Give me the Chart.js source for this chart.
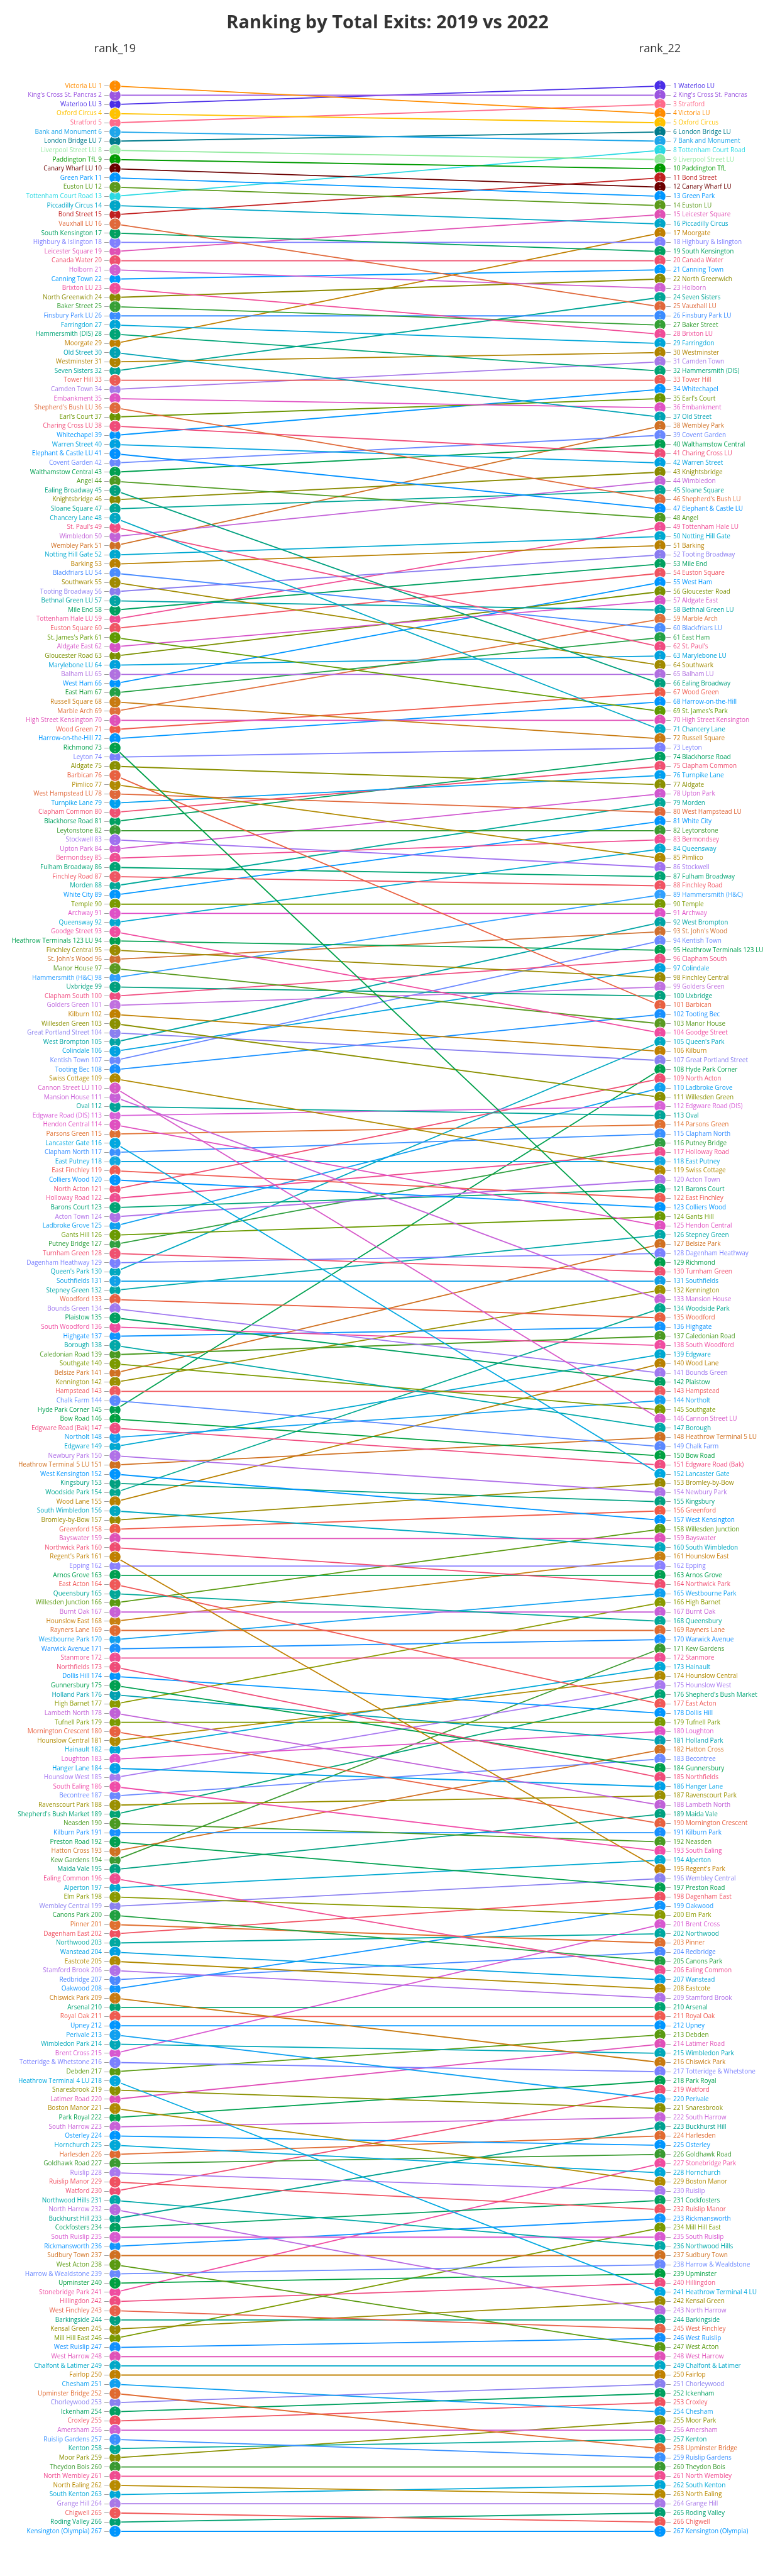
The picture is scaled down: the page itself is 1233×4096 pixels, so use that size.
<!DOCTYPE html>
<html>
<head>
<meta charset="utf-8">
<script src="https://cdn.jsdelivr.net/npm/chart.js@4.4.1/dist/chart.umd.min.js"></script>
<style>
  html, body { margin: 0; padding: 0; background: #fff; }
  #wrap { width: 1233px; height: 4096px; }
</style>
</head>
<body>
<div id="wrap"><canvas id="slopeChart"></canvas></div>
<script>
// stations in 2019 order (rank_19 = position in this list)
const stations19 = [
"Victoria LU","King's Cross St. Pancras","Waterloo LU","Oxford Circus","Stratford","Bank and Monument","London Bridge LU","Liverpool Street LU","Paddington TfL","Canary Wharf LU",
"Green Park","Euston LU","Tottenham Court Road","Piccadilly Circus","Bond Street","Vauxhall LU","South Kensington","Highbury & Islington","Leicester Square","Canada Water",
"Holborn","Canning Town","Brixton LU","North Greenwich","Baker Street","Finsbury Park LU","Farringdon","Hammersmith (DIS)","Moorgate","Old Street",
"Westminster","Seven Sisters","Tower Hill","Camden Town","Embankment","Shepherd's Bush LU","Earl's Court","Charing Cross LU","Whitechapel","Warren Street",
"Elephant & Castle LU","Covent Garden","Walthamstow Central","Angel","Ealing Broadway","Knightsbridge","Sloane Square","Chancery Lane","St. Paul's","Wimbledon",
"Wembley Park","Notting Hill Gate","Barking","Blackfriars LU","Southwark","Tooting Broadway","Bethnal Green LU","Mile End","Tottenham Hale LU","Euston Square",
"St. James's Park","Aldgate East","Gloucester Road","Marylebone LU","Balham LU","West Ham","East Ham","Russell Square","Marble Arch","High Street Kensington",
"Wood Green","Harrow-on-the-Hill","Richmond","Leyton","Aldgate","Barbican","Pimlico","West Hampstead LU","Turnpike Lane","Clapham Common",
"Blackhorse Road","Leytonstone","Stockwell","Upton Park","Bermondsey","Fulham Broadway","Finchley Road","Morden","White City","Temple",
"Archway","Queensway","Goodge Street","Heathrow Terminals 123 LU","Finchley Central","St. John's Wood","Manor House","Hammersmith (H&C)","Uxbridge","Clapham South",
"Golders Green","Kilburn","Willesden Green","Great Portland Street","West Brompton","Colindale","Kentish Town","Tooting Bec","Swiss Cottage","Cannon Street LU",
"Mansion House","Oval","Edgware Road (DIS)","Hendon Central","Parsons Green","Lancaster Gate","Clapham North","East Putney","East Finchley","Colliers Wood",
"North Acton","Holloway Road","Barons Court","Acton Town","Ladbroke Grove","Gants Hill","Putney Bridge","Turnham Green","Dagenham Heathway","Queen's Park",
"Southfields","Stepney Green","Woodford","Bounds Green","Plaistow","South Woodford","Highgate","Borough","Caledonian Road","Southgate",
"Belsize Park","Kennington","Hampstead","Chalk Farm","Hyde Park Corner","Bow Road","Edgware Road (Bak)","Northolt","Edgware","Newbury Park",
"Heathrow Terminal 5 LU","West Kensington","Kingsbury","Woodside Park","Wood Lane","South Wimbledon","Bromley-by-Bow","Greenford","Bayswater","Northwick Park",
"Regent's Park","Epping","Arnos Grove","East Acton","Queensbury","Willesden Junction","Burnt Oak","Hounslow East","Rayners Lane","Westbourne Park",
"Warwick Avenue","Stanmore","Northfields","Dollis Hill","Gunnersbury","Holland Park","High Barnet","Lambeth North","Tufnell Park","Mornington Crescent",
"Hounslow Central","Hainault","Loughton","Hanger Lane","Hounslow West","South Ealing","Becontree","Ravenscourt Park","Shepherd's Bush Market","Neasden",
"Kilburn Park","Preston Road","Hatton Cross","Kew Gardens","Maida Vale","Ealing Common","Alperton","Elm Park","Wembley Central","Canons Park",
"Pinner","Dagenham East","Northwood","Wanstead","Eastcote","Stamford Brook","Redbridge","Oakwood","Chiswick Park","Arsenal",
"Royal Oak","Upney","Perivale","Wimbledon Park","Brent Cross","Totteridge & Whetstone","Debden","Heathrow Terminal 4 LU","Snaresbrook","Latimer Road",
"Boston Manor","Park Royal","South Harrow","Osterley","Hornchurch","Harlesden","Goldhawk Road","Ruislip","Ruislip Manor","Watford",
"Northwood Hills","North Harrow","Buckhurst Hill","Cockfosters","South Ruislip","Rickmansworth","Sudbury Town","West Acton","Harrow & Wealdstone","Upminster",
"Stonebridge Park","Hillingdon","West Finchley","Barkingside","Kensal Green","Mill Hill East","West Ruislip","West Harrow","Chalfont & Latimer","Fairlop",
"Chesham","Upminster Bridge","Chorleywood","Ickenham","Croxley","Amersham","Ruislip Gardens","Kenton","Moor Park","Theydon Bois",
"North Wembley","North Ealing","South Kenton","Grange Hill","Chigwell","Roding Valley","Kensington (Olympia)"
];

// one colour per station, same order as stations19
const stationColors = [
"#ff8c00","#9b55e0","#4a2ee8","#ffc200","#ff6b8b","#1ea6ea","#007b8c","#8de99a","#009a00","#6b0000",
"#0096ff","#5b9a1a","#29d9e3","#00a6c8","#c01f1f","#e0683a","#00a060","#8080ff","#e050b4","#f04f6e",
"#d05fd0","#0099ff","#f04c98","#8a8a00","#35a035","#3a8cff","#00a6d8","#00a476","#c07f00","#00a2b4",
"#b08300","#00a596","#ec5a54","#a678e8","#e052c4","#e06a3a","#6a9500","#f04c78","#0096ff","#00a2e0",
"#0090ff","#6a88ff","#00a050","#4e9a20","#00a07e","#8a8a00","#00a596","#00a8c4","#f04c80","#c262d8",
"#d07024","#00a8d0","#b88000","#4a8cff","#a08a00","#8a7cf0","#00a4a4","#00a060","#f04c94","#f05462",
"#5f9a00","#d552c8","#7a9000","#00a2dc","#b070e0","#0096ff","#22a044","#c87a10","#e0703a","#e050b8",
"#ef5a4a","#0096ff","#00a04a","#7a80ff","#8a9000","#e86040","#b08a00","#e0683a","#00a0f0","#f05072",
"#00a060","#3a9a30","#a070f0","#d058d0","#f04c92","#00a474","#f05462","#00a898","#0096ff","#7a9a00",
"#e050c8","#00a8d0","#f04ca0","#00a050","#9a8a00","#d07030","#5a9a20","#30a0ff","#00a07e","#f04c80",
"#c070e0","#c08000","#8a9000","#8a80f0","#00a4a4","#00a2e0","#6a88ff","#1890ff","#b08a00","#d858c8",
"#c860d8","#00a498","#d860d8","#e050c0","#e07030","#00a8e0","#3a90ff","#10a8e0","#f05a52","#0096ff",
"#f04c70","#f04c90","#00a474","#b070e8","#10a0f0","#6a9a00","#30a040","#f05070","#7a80ff","#00a8c0",
"#10a0e8","#00a8a8","#e86040","#a078f0","#00a060","#f04ca0","#1095ff","#00a8a8","#4a9a20","#7a9a00",
"#d07020","#9a9000","#f05a60","#5a88ff","#00a050","#00a040","#f04c80","#10a0f0","#00a8d0","#b070e8",
"#d07020","#0096ff","#00a080","#00a890","#b88000","#00a8c0","#9a8a00","#f05a48","#e050b8","#f04c70",
"#c08000","#8a80ff","#00a050","#f05858","#00a898","#5a9a10","#c860d8","#c88010","#e06a30","#10a0f0",
"#1890ff","#f04c90","#f04c78","#0096ff","#00a050","#00a0b0","#8a9a00","#c060d8","#7a9a00","#e86040",
"#b08a00","#00a8d8","#e050c8","#00a0e8","#a878f0","#f04ca8","#6a88ff","#9a9000","#00a474","#4a9a20",
"#1890ff","#00a050","#d07020","#3a9a30","#00a080","#f04c90","#00a8d0","#8a9a00","#8a80f0","#20a040",
"#e07030","#f05060","#00a8a0","#00a0e0","#b08a00","#b070e8","#4a88ff","#1095ff","#c87a10","#00a474",
"#f05a50","#0096ff","#10a0f0","#00a8b8","#d858d0","#7a80ff","#5a9a10","#00a8e0","#8a9000","#e050b8",
"#b08a00","#00a050","#c860d8","#0096ff","#00a8d8","#e06a30","#3a9a30","#a878f0","#f05060","#f04c70",
"#00a8a8","#b868e0","#00a090","#00a060","#d858d0","#1095ff","#d07020","#5a9a10","#6a88ff","#00a040",
"#f04ca0","#f04c80","#e86048","#00a080","#9a8a00","#7a9a00","#1090ff","#e050b8","#00a8c8","#c08000",
"#10a0f0","#e06a30","#8a80f0","#00a060","#f05060","#d060d0","#3a90ff","#00a898","#8a9000","#3a9a30",
"#f04c90","#b88a00","#00a8d8","#a878e8","#f05858","#00a070","#0096ff"
];

// stations in 2022 order
const stations22 = [
"Waterloo LU","King's Cross St. Pancras","Stratford","Victoria LU","Oxford Circus","London Bridge LU","Bank and Monument","Tottenham Court Road","Liverpool Street LU","Paddington TfL",
"Bond Street","Canary Wharf LU","Green Park","Euston LU","Leicester Square","Piccadilly Circus","Moorgate","Highbury & Islington","South Kensington","Canada Water",
"Canning Town","North Greenwich","Holborn","Seven Sisters","Vauxhall LU","Finsbury Park LU","Baker Street","Brixton LU","Farringdon","Westminster",
"Camden Town","Hammersmith (DIS)","Tower Hill","Whitechapel","Earl's Court","Embankment","Old Street","Wembley Park","Covent Garden","Walthamstow Central",
"Charing Cross LU","Warren Street","Knightsbridge","Wimbledon","Sloane Square","Shepherd's Bush LU","Elephant & Castle LU","Angel","Tottenham Hale LU","Notting Hill Gate",
"Barking","Tooting Broadway","Mile End","Euston Square","West Ham","Gloucester Road","Aldgate East","Bethnal Green LU","Marble Arch","Blackfriars LU",
"East Ham","St. Paul's","Marylebone LU","Southwark","Balham LU","Ealing Broadway","Wood Green","Harrow-on-the-Hill","St. James's Park","High Street Kensington",
"Chancery Lane","Russell Square","Leyton","Blackhorse Road","Clapham Common","Turnpike Lane","Aldgate","Upton Park","Morden","West Hampstead LU",
"White City","Leytonstone","Bermondsey","Queensway","Pimlico","Stockwell","Fulham Broadway","Finchley Road","Hammersmith (H&C)","Temple",
"Archway","West Brompton","St. John's Wood","Kentish Town","Heathrow Terminals 123 LU","Clapham South","Colindale","Finchley Central","Golders Green","Uxbridge",
"Barbican","Tooting Bec","Manor House","Goodge Street","Queen's Park","Kilburn","Great Portland Street","Hyde Park Corner","North Acton","Ladbroke Grove",
"Willesden Green","Edgware Road (DIS)","Oval","Parsons Green","Clapham North","Putney Bridge","Holloway Road","East Putney","Swiss Cottage","Acton Town",
"Barons Court","East Finchley","Colliers Wood","Gants Hill","Hendon Central","Stepney Green","Belsize Park","Dagenham Heathway","Richmond","Turnham Green",
"Southfields","Kennington","Mansion House","Woodside Park","Woodford","Highgate","Caledonian Road","South Woodford","Edgware","Wood Lane",
"Bounds Green","Plaistow","Hampstead","Northolt","Southgate","Cannon Street LU","Borough","Heathrow Terminal 5 LU","Chalk Farm","Bow Road",
"Edgware Road (Bak)","Lancaster Gate","Bromley-by-Bow","Newbury Park","Kingsbury","Greenford","West Kensington","Willesden Junction","Bayswater","South Wimbledon",
"Hounslow East","Epping","Arnos Grove","Northwick Park","Westbourne Park","High Barnet","Burnt Oak","Queensbury","Rayners Lane","Warwick Avenue",
"Kew Gardens","Stanmore","Hainault","Hounslow Central","Hounslow West","Shepherd's Bush Market","East Acton","Dollis Hill","Tufnell Park","Loughton",
"Holland Park","Hatton Cross","Becontree","Gunnersbury","Northfields","Hanger Lane","Ravenscourt Park","Lambeth North","Maida Vale","Mornington Crescent",
"Kilburn Park","Neasden","South Ealing","Alperton","Regent's Park","Wembley Central","Preston Road","Dagenham East","Oakwood","Elm Park",
"Brent Cross","Northwood","Pinner","Redbridge","Canons Park","Ealing Common","Wanstead","Eastcote","Stamford Brook","Arsenal",
"Royal Oak","Upney","Debden","Latimer Road","Wimbledon Park","Chiswick Park","Totteridge & Whetstone","Park Royal","Watford","Perivale",
"Snaresbrook","South Harrow","Buckhurst Hill","Harlesden","Osterley","Goldhawk Road","Stonebridge Park","Hornchurch","Boston Manor","Ruislip",
"Cockfosters","Ruislip Manor","Rickmansworth","Mill Hill East","South Ruislip","Northwood Hills","Sudbury Town","Harrow & Wealdstone","Upminster","Hillingdon",
"Heathrow Terminal 4 LU","Kensal Green","North Harrow","Barkingside","West Finchley","West Ruislip","West Acton","West Harrow","Chalfont & Latimer","Fairlop",
"Chorleywood","Ickenham","Croxley","Chesham","Moor Park","Amersham","Kenton","Upminster Bridge","Ruislip Gardens","Theydon Bois",
"North Wembley","South Kenton","North Ealing","Grange Hill","Roding Valley","Chigwell","Kensington (Olympia)"
];

const axisLabels = ['rank_19', 'rank_22'];
const N = stations19.length;

const colorOf = {};
stations19.forEach((s, i) => { colorOf[s] = stationColors[i]; });

const FONT = "'Open Sans', 'DejaVu Sans', sans-serif";

let datasets = stations19.map((name, i) => {
    let r22 = stations22.indexOf(name) + 1;
    if (r22 === 0) throw new Error('missing in 2022 list: ' + name);
    return {
        label: name,
        data: [{x: axisLabels[0], y: i + 1}, {x: axisLabels[1], y: r22}],
        borderColor: stationColors[i],
        backgroundColor: stationColors[i],
        borderWidth: 1.8,
        pointRadius: 9.5,
        pointBorderColor: '#ffffff',
        pointBorderWidth: 1.3,
        order: -r22, // lower 2022 rank drawn first
        clip: false
    };
});

// dashed guide through the point columns, drawn over the points
const guideLines = {
    id: 'guideLines',
    afterDatasetsDraw(chart) {
        const c = chart.ctx, a = chart.chartArea, x = chart.scales.x;
        c.save();
        c.strokeStyle = 'rgba(215,215,215,0.95)';
        c.lineWidth = 1;
        c.setLineDash([2, 3]);
        axisLabels.forEach((l, i) => {
            let px = x.getPixelForValue(i);
            c.beginPath();
            c.moveTo(px, a.top - 8);
            c.lineTo(px, a.bottom + 8);
            c.stroke();
        });
        c.restore();
    }
};

function rankAxis(position, labelFn, colorFn) {
    return {
        type: 'linear',
        position: position,
        reverse: true,
        min: 1,
        max: N,
        afterFit: s => { s.width = 183; },
        border: { display: false },
        grid: { drawOnChartArea: false, drawTicks: true, tickLength: 17, tickColor: '#9a9a9a', tickWidth: 1 },
        ticks: {
            stepSize: 1,
            maxTicksLimit: 400,
            autoSkip: false,
            padding: 4,
            font: { family: FONT, size: 10 },
            color: c => colorFn(c.tick.value),
            callback: v => labelFn(v)
        }
    };
}

new Chart(document.getElementById('slopeChart'), {
    type: 'line',
    data: { labels: axisLabels, datasets: datasets },
    options: {
        responsive: true,
        maintainAspectRatio: false,
        animation: false,
        layout: { padding: { left: 0, right: 0, top: 0, bottom: 71 } },
        scales: {
            x: {
                type: 'category',
                position: 'top',
                offset: false,
                afterFit: s => { s.height = 83; },
                grid: { display: false },
                border: { display: false },
                ticks: { padding: 40, color: '#333', font: { family: FONT, size: 18 } }
            },
            y: rankAxis('left', v => stations19[v - 1] + ' ' + v, v => stationColors[v - 1]),
            y2: rankAxis('right', v => v + ' ' + stations22[v - 1], v => colorOf[stations22[v - 1]])
        },
        plugins: {
            legend: { display: false },
            tooltip: { enabled: false },
            title: {
                display: true,
                text: 'Ranking by Total Exits: 2019 vs 2022',
                color: '#333',
                font: { family: FONT, size: 29, weight: 'bold' },
                padding: { top: 19, bottom: 0 }
            }
        }
    },
    plugins: [guideLines]
});
</script>
</body>
</html>
